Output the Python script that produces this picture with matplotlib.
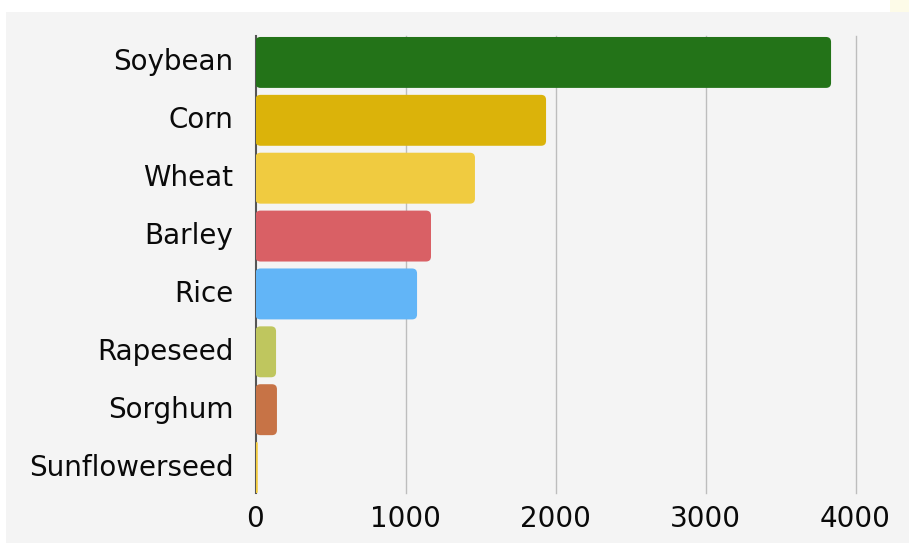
import matplotlib
matplotlib.use("Agg")
import matplotlib.pyplot as plt
from matplotlib.patches import FancyBboxPatch, Rectangle

crops = ["Soybean", "Corn", "Wheat", "Barley", "Rice", "Rapeseed", "Sorghum", "Sunflowerseed"]
values = [3837, 1937, 1463, 1170, 1077, 137, 143, 15]
colors = ["#237318", "#dbb30a", "#f0cb40", "#d96065", "#62b5f7", "#bfc65e", "#c77346", "#f4cc3c"]
x_ticks = [0, 1000, 2000, 3000, 4000]

W, H = 909, 543
fig = plt.figure(figsize=(W / 100, H / 100), dpi=100)
fig.patch.set_facecolor("white")

# light grey card behind the chart
fig.add_artist(Rectangle((6 / W, 0), 1 - 6 / W, 1 - 12 / H, transform=fig.transFigure,
                         facecolor="#f4f4f4", edgecolor="none", zorder=-10))
fig.add_artist(Rectangle((890 / W, 1 - 12 / H), 19 / W, 12 / H, transform=fig.transFigure,
                         facecolor="#fdfbe8", edgecolor="none", zorder=-10))

left, right, top, bottom = 255.5, 885.5, 33.5, 496.5
ax = fig.add_axes([left / W, 1 - bottom / H, (right - left) / W, (bottom - top) / H])
ax.set_facecolor("none")

n = len(crops)
ax.set_xlim(0, 4200)
ax.set_ylim(n - 0.5, -0.5)

bars = ax.barh(range(n), values, height=0.88, color=colors)
# swap plain bars for rounded ones
px_x = 4200 / (right - left)
px_y = n / (bottom - top)
r = 5
for b in bars:
    x0, y0, w, h = b.get_x(), b.get_y(), b.get_width(), b.get_height()
    rs = min(r * px_x, w / 2)
    p = FancyBboxPatch((x0, y0), w, h,
                       boxstyle=f"round,pad=0,rounding_size={rs}",
                       mutation_aspect=px_y / px_x,
                       facecolor=b.get_facecolor(), edgecolor="none", zorder=3)
    ax.add_patch(p)
    b.set_visible(False)

ax.set_xticks(x_ticks)
ax.set_xticklabels([str(t) for t in x_ticks])
ax.set_yticks(range(n))
ax.set_yticklabels(crops)
ax.tick_params(axis="both", length=0, labelsize=20, labelcolor="#0a0a0a")
ax.tick_params(axis="y", pad=16)
ax.tick_params(axis="x", pad=6)
for lab in ax.get_xticklabels() + ax.get_yticklabels():
    lab.set_fontfamily("DejaVu Sans")
for lab in ax.get_yticklabels():
    lab.set_verticalalignment("center")

# vertical grid lines, slightly inset from the plot top and bottom
g0 = (bottom - 493) / (bottom - top)
g1 = (bottom - 36) / (bottom - top)
for t in x_ticks[1:]:
    ax.axvline(t, ymin=g0, ymax=g1, color="#bdbdbd", linewidth=1, zorder=1)

for s in ["top", "right", "bottom"]:
    ax.spines[s].set_visible(False)
ax.spines["left"].set_color("#555555")
ax.spines["left"].set_linewidth(1.5)
ax.spines["left"].set_bounds(n - 0.5 - 0.06, -0.5 + 0.04)
ax.spines["left"].set_zorder(2)

fig.savefig("out.png", dpi=100)
